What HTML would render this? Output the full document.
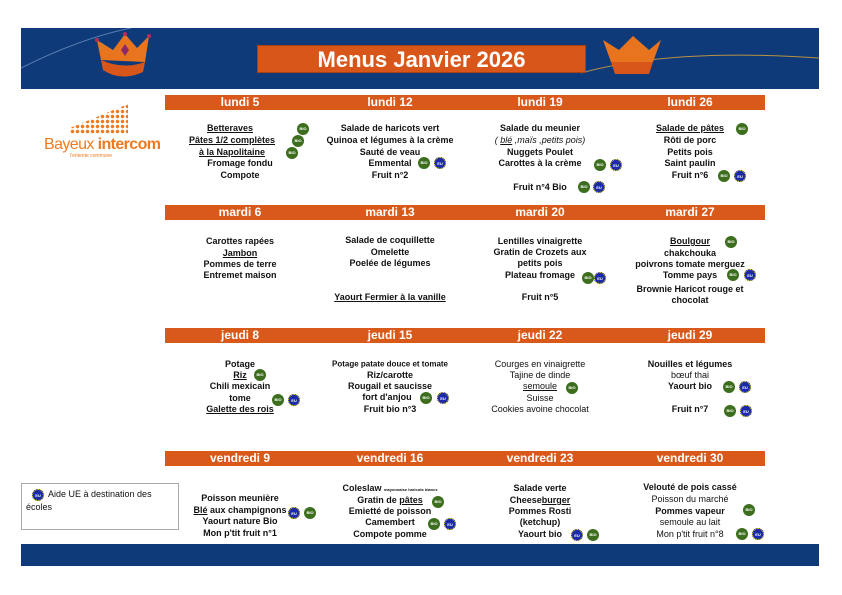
<!DOCTYPE html>
<html><head><meta charset="utf-8"><style>
*{margin:0;padding:0;box-sizing:border-box}
body{width:842px;height:595px;background:#fff;position:relative;overflow:hidden;font-family:"Liberation Sans",Arial,sans-serif}
.ban{position:absolute;left:21px;top:28px;width:798px;height:61px;background:#0e3a7a;overflow:hidden}
.bot{position:absolute;left:21px;top:544px;width:798px;height:22px;background:#0e3a7a}
.title{position:absolute;left:257px;top:45px;width:329px;height:28px;background:#d9561a;border:1px solid #a84010;color:#fff;font-weight:bold;font-size:22px;text-align:center;line-height:27px;font-family:"Liberation Sans",sans-serif}
.h{position:absolute;left:165px;width:600px;height:15px;background:#d9591a;color:#fff;font-weight:bold;font-size:12px;line-height:15px}
.h span{position:absolute;width:150px;text-align:center;top:0}
.t{position:absolute;transform:translate(-50%,-50%);white-space:nowrap;font-size:9px;font-weight:bold;color:#111}
.u{text-decoration:underline}
.n{font-weight:normal}
.b{position:absolute;width:12px;height:12px;border-radius:50%;transform:translate(-50%,-50%);font-size:4px;color:#fff;text-align:center;line-height:12px;font-weight:bold}
.g{background:#3c6e1e}
.e{background:#1a2aa8;border:1px dotted #e8d000}
.leg{position:absolute;left:21px;top:483px;width:158px;height:47px;border:1px solid #aaa;font-size:9px;color:#111;padding:4px 4px 0 4px;line-height:12px}
</style></head><body>
<div class="ban">
<svg width="798" height="61" style="position:absolute;left:0;top:0">
<path d="M0 40 Q60 10 110 0" stroke="#5a7fb0" fill="none" stroke-width="1"/>
<path d="M560 45 Q650 20 798 30" stroke="#b89040" fill="none" stroke-width="1"/>
<path d="M80 32 L76 12 L92 22 L104 6 L116 20 L128 8 L124 34 Z" fill="#e8751e"/>
<path d="M80 32 Q102 42 124 34 L122 44 Q100 54 82 42Z" fill="#d9561a"/>
<circle cx="104" cy="6" r="2" fill="#b03060"/><circle cx="128" cy="8" r="2" fill="#b03060"/><circle cx="76" cy="12" r="2" fill="#b03060"/>
<path d="M100 22 L104 16 L108 22 L104 28Z" fill="#8a2a6a"/>
<path d="M582 12 L590 34 L632 34 L640 12 L628 22 L612 8 L598 22Z" fill="#e8751e"/>
<path d="M590 34 L632 34 L628 46 L594 46Z" fill="#d9561a"/>
</svg></div>
<div class="title">Menus Janvier 2026</div>
<div class="bot"></div>

<div style="position:absolute;left:70px;top:104px;width:58px;height:30px;background:radial-gradient(circle,#f07a20 1.5px,transparent 2px) 0 0/5px 5px;clip-path:polygon(0 80%,100% 0,100% 100%,0 100%)"></div>
<div style="position:absolute;left:44px;top:136px;font-size:16px;color:#f07a20;letter-spacing:-0.6px">Bayeux <b>intercom</b></div>
<div style="position:absolute;left:70px;top:153px;font-size:5px;color:#f07a20">l'entente commune</div>

<div class="h" style="top:95px"><span style="left:0">lundi 5</span><span style="left:150px">lundi 12</span><span style="left:300px">lundi 19</span><span style="left:450px">lundi 26</span></div>
<div class="h" style="top:205px"><span style="left:0">mardi 6</span><span style="left:150px">mardi 13</span><span style="left:300px">mardi 20</span><span style="left:450px">mardi 27</span></div>
<div class="h" style="top:328px"><span style="left:0">jeudi 8</span><span style="left:150px">jeudi 15</span><span style="left:300px">jeudi 22</span><span style="left:450px">jeudi 29</span></div>
<div class="h" style="top:451px"><span style="left:0">vendredi 9</span><span style="left:150px">vendredi 16</span><span style="left:300px">vendredi 23</span><span style="left:450px">vendredi 30</span></div>

<!-- lundi -->
<div class="t u" style="left:230px;top:128px">Betteraves</div>
<div class="t u" style="left:232px;top:140px">Pâtes 1/2 complètes</div>
<div class="t u" style="left:232px;top:152px">à la Napolitaine</div>
<div class="t" style="left:240px;top:163px">Fromage fondu</div>
<div class="t" style="left:240px;top:175px">Compote</div>
<div class="b g" style="left:303px;top:129px">BIO</div><div class="b g" style="left:298px;top:141px">BIO</div><div class="b g" style="left:292px;top:153px">BIO</div>

<div class="t" style="left:390px;top:128px">Salade de haricots vert</div>
<div class="t" style="left:390px;top:140px">Quinoa et légumes à la crème</div>
<div class="t" style="left:390px;top:152px">Sauté de veau</div>
<div class="t" style="left:390px;top:163px">Emmental</div>
<div class="t" style="left:390px;top:175px">Fruit n°2</div>
<div class="b g" style="left:424px;top:163px">BIO</div><div class="b e" style="left:440px;top:163px">EU</div>

<div class="t n" style="left:540px;top:128px"><b>Salade du meunier</b></div>
<div class="t n" style="left:540px;top:140px;font-style:italic">( <span class="u">blé</span> ,maïs ,petits pois)</div>
<div class="t" style="left:540px;top:152px">Nuggets Poulet</div>
<div class="t" style="left:540px;top:163px">Carottes à la crème</div>
<div class="t" style="left:540px;top:187px">Fruit n°4 Bio</div>
<div class="b g" style="left:600px;top:165px">BIO</div><div class="b e" style="left:616px;top:165px">EU</div>
<div class="b g" style="left:584px;top:187px">BIO</div><div class="b e" style="left:599px;top:187px">EU</div>

<div class="t u" style="left:690px;top:128px">Salade de pâtes</div>
<div class="t" style="left:690px;top:140px">Rôti de porc</div>
<div class="t" style="left:690px;top:152px">Petits pois</div>
<div class="t" style="left:690px;top:163px">Saint paulin</div>
<div class="t" style="left:690px;top:175px">Fruit n°6</div>
<div class="b g" style="left:742px;top:129px">BIO</div>
<div class="b g" style="left:724px;top:176px">BIO</div><div class="b e" style="left:740px;top:176px">EU</div>

<!-- mardi -->
<div class="t" style="left:240px;top:241px">Carottes rapées</div>
<div class="t u" style="left:240px;top:253px">Jambon</div>
<div class="t" style="left:240px;top:264px">Pommes de terre</div>
<div class="t" style="left:240px;top:275px">Entremet maison</div>

<div class="t" style="left:390px;top:240px">Salade de coquillette</div>
<div class="t" style="left:390px;top:252px">Omelette</div>
<div class="t" style="left:390px;top:263px">Poelée de légumes</div>
<div class="t u" style="left:390px;top:297px">Yaourt Fermier à la vanille</div>

<div class="t" style="left:540px;top:241px">Lentilles vinaigrette</div>
<div class="t" style="left:540px;top:252px">Gratin de Crozets aux</div>
<div class="t" style="left:540px;top:263px">petits pois</div>
<div class="t" style="left:540px;top:275px">Plateau fromage</div>
<div class="t" style="left:540px;top:297px">Fruit n°5</div>
<div class="b g" style="left:588px;top:278px">BIO</div><div class="b e" style="left:600px;top:278px">EU</div>

<div style="position:absolute;left:615px;top:230px;width:150px;height:74px;overflow:hidden">
<div class="t u" style="left:75px;top:11px">Boulgour</div>
<div class="t" style="left:75px;top:23px">chakchouka</div>
<div class="t" style="left:75px;top:34px">poivrons tomate merguez</div>
<div class="t" style="left:75px;top:45px">Tomme pays</div>
<div class="t" style="left:75px;top:59px">Brownie Haricot rouge et</div>
<div class="t" style="left:75px;top:70px">chocolat</div>
</div>
<div class="b g" style="left:731px;top:242px">BIO</div>
<div class="b g" style="left:733px;top:275px">BIO</div><div class="b e" style="left:750px;top:275px">EU</div>

<!-- jeudi -->
<div class="t" style="left:240px;top:364px">Potage</div>
<div class="t u" style="left:240px;top:375px">Riz</div>
<div class="t" style="left:240px;top:386px">Chili mexicain</div>
<div class="t" style="left:240px;top:398px">tome</div>
<div class="t u" style="left:240px;top:409px">Galette des rois</div>
<div class="b g" style="left:260px;top:375px">BIO</div>
<div class="b g" style="left:278px;top:400px">BIO</div><div class="b e" style="left:294px;top:400px">EU</div>

<div class="t" style="left:390px;top:364px;font-size:8px">Potage patate douce et tomate</div>
<div class="t" style="left:390px;top:375px">Riz/carotte</div>
<div class="t" style="left:390px;top:386px">Rougail et saucisse</div>
<div class="t" style="left:387px;top:397px">fort d'anjou</div>
<div class="t" style="left:390px;top:409px">Fruit bio n°3</div>
<div class="b g" style="left:426px;top:398px">BIO</div><div class="b e" style="left:443px;top:398px">EU</div>

<div class="t n" style="left:540px;top:364px">Courges en vinaigrette</div>
<div class="t n" style="left:540px;top:375px">Tajine de dinde</div>
<div class="t n u" style="left:540px;top:386px">semoule</div>
<div class="t n" style="left:540px;top:398px">Suisse</div>
<div class="t n" style="left:540px;top:409px">Cookies avoine chocolat</div>
<div class="b g" style="left:572px;top:388px">BIO</div>

<div class="t" style="left:690px;top:364px">Nouilles et légumes</div>
<div class="t n" style="left:690px;top:375px">bœuf thai</div>
<div class="t" style="left:690px;top:386px">Yaourt bio</div>
<div class="t" style="left:690px;top:409px">Fruit n°7</div>
<div class="b g" style="left:729px;top:387px">BIO</div><div class="b e" style="left:745px;top:387px">EU</div>
<div class="b g" style="left:730px;top:411px">BIO</div><div class="b e" style="left:746px;top:411px">EU</div>

<!-- vendredi -->
<div class="t" style="left:240px;top:498px">Poisson meunière</div>
<div class="t" style="left:240px;top:510px"><span class="u">Blé</span> aux champignons</div>
<div class="t" style="left:240px;top:521px">Yaourt nature Bio</div>
<div class="t" style="left:240px;top:533px">Mon p'tit fruit n°1</div>
<div class="b e" style="left:294px;top:513px">EU</div><div class="b g" style="left:310px;top:513px">BIO</div>

<div class="t" style="left:390px;top:488px">Coleslaw <span style="font-size:4px">mayonnaise haricots blancs</span></div>
<div class="t" style="left:390px;top:500px">Gratin de <span class="u">pâtes</span></div>
<div class="t" style="left:390px;top:511px">Emietté de poisson</div>
<div class="t" style="left:390px;top:522px">Camembert</div>
<div class="t" style="left:390px;top:534px">Compote pomme</div>
<div class="b g" style="left:438px;top:502px">BIO</div>
<div class="b g" style="left:434px;top:524px">BIO</div><div class="b e" style="left:450px;top:524px">EU</div>

<div class="t" style="left:540px;top:488px">Salade verte</div>
<div class="t" style="left:540px;top:500px">Cheese<span class="u">burger</span></div>
<div class="t" style="left:540px;top:511px">Pommes Rosti</div>
<div class="t" style="left:540px;top:522px">(ketchup)</div>
<div class="t" style="left:540px;top:534px">Yaourt bio</div>
<div class="b e" style="left:577px;top:535px">EU</div><div class="b g" style="left:593px;top:535px">BIO</div>

<div class="t" style="left:690px;top:487px">Velouté de pois cassé</div>
<div class="t n" style="left:690px;top:499px">Poisson du marché</div>
<div class="t" style="left:690px;top:511px">Pommes vapeur</div>
<div class="t n" style="left:690px;top:522px">semoule au lait</div>
<div class="t n" style="left:690px;top:534px">Mon p'tit fruit n°8</div>
<div class="b g" style="left:749px;top:510px">BIO</div>
<div class="b g" style="left:742px;top:534px">BIO</div><div class="b e" style="left:758px;top:534px">EU</div>

<div class="leg"><span class="b e" style="position:relative;display:inline-block;transform:none;vertical-align:middle;margin:0 4px 0 6px">EU</span>Aide UE à destination des écoles</div>
</body></html>
